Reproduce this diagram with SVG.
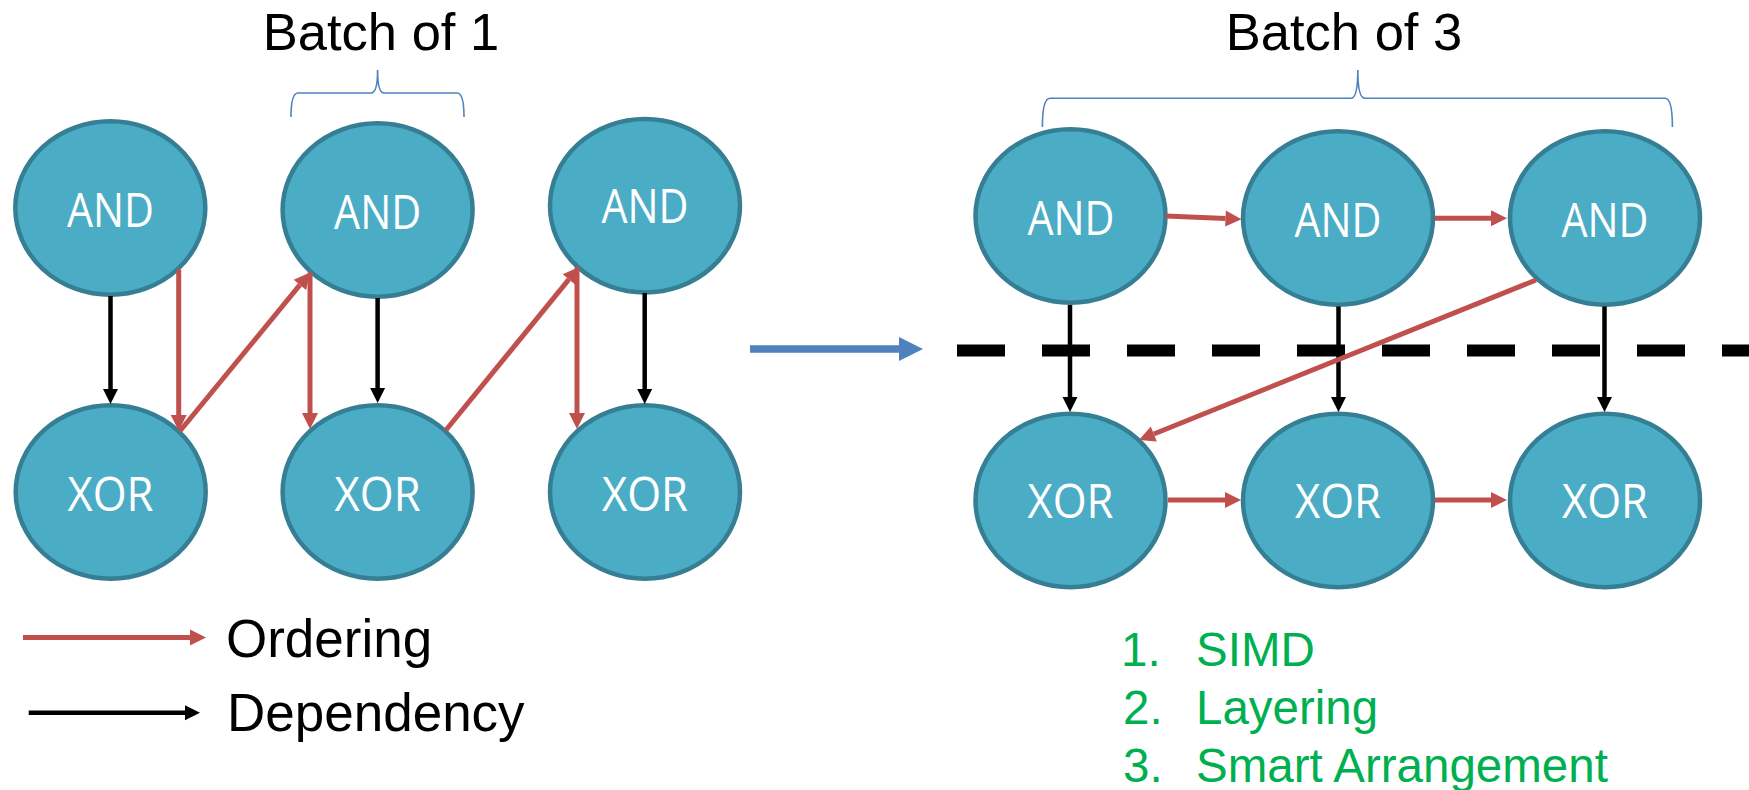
<svg xmlns="http://www.w3.org/2000/svg" width="1749" height="790" viewBox="0 0 1749 790">
  <style>
    .node ellipse { fill: #4BACC6; stroke: #357E93; stroke-width: 4.5; }
    .node text { fill: #FFFFFF; font-family: "Open Sans", "Liberation Sans", sans-serif; font-size: 48px; text-anchor: middle; }
    .title { font-family: "Liberation Sans", Arial, sans-serif; font-size: 52.5px; fill: #000000; text-anchor: middle; }
    .legend { font-family: "Liberation Sans", Arial, sans-serif; font-size: 53px; fill: #000000; }
    .list { font-family: "Liberation Sans", Arial, sans-serif; font-size: 47.5px; fill: #00B050; }
    .red { stroke: #C0504D; stroke-width: 5; fill: none; marker-end: url(#redHead); }
    .black { stroke: #000000; stroke-width: 4.5; fill: none; marker-end: url(#blackHead); }
    .brace { stroke: #4F81BD; stroke-width: 1.6; fill: none; }
  </style>
  <defs>
    <marker id="redHead" markerUnits="userSpaceOnUse" markerWidth="16" markerHeight="16" refX="0" refY="8" orient="auto" overflow="visible">
      <path d="M0,0 L16,8 L0,16 z" fill="#C0504D"/>
    </marker>
    <marker id="blackHead" markerUnits="userSpaceOnUse" markerWidth="15" markerHeight="15" refX="0" refY="7.5" orient="auto" overflow="visible">
      <path d="M0,0 L15,7.5 L0,15 z" fill="#000000"/>
    </marker>
    <marker id="blueHead" markerUnits="userSpaceOnUse" markerWidth="24" markerHeight="24" refX="0" refY="12" orient="auto" overflow="visible">
      <path d="M0,0 L24,12 L0,24 z" fill="#4F81BD"/>
    </marker>
  </defs>

  <!-- titles and braces -->
  <text class="title" x="381" y="50">Batch of 1</text>
  <text class="title" x="1344" y="50">Batch of 3</text>
  <path class="brace" d="M291,117 Q291,93 298,93 L371,93 Q377.6,93 377.6,70 Q377.6,93 384,93 L457,93 Q464,93 464,117"/>
  <path class="brace" d="M1042.4,127 Q1042.4,98.3 1050,98.3 L1351,98.3 Q1357.8,98.3 1357.8,70 Q1357.8,98.3 1365,98.3 L1665,98.3 Q1672.4,98.3 1672.4,127"/>

  <!-- separator -->
  <g id="separator">
    <line x1="957" y1="350.5" x2="1760" y2="350.5" stroke="#000000" stroke-width="12" stroke-dasharray="48 37"/>
  </g>

  <!-- nodes: left -->
  <g id="L_AND1" class="node"><ellipse cx="110.3" cy="208" rx="95" ry="86.7"/><text x="110.5" y="226.7" textLength="87" lengthAdjust="spacingAndGlyphs">AND</text></g>
  <g id="L_AND2" class="node"><ellipse cx="377.6" cy="210" rx="95" ry="86.7"/><text x="377.6" y="228.7" textLength="87" lengthAdjust="spacingAndGlyphs">AND</text></g>
  <g id="L_AND3" class="node"><ellipse cx="645" cy="205.7" rx="95" ry="86.7"/><text x="645" y="223.3" textLength="87" lengthAdjust="spacingAndGlyphs">AND</text></g>
  <g id="L_XOR1" class="node"><ellipse cx="110.7" cy="492" rx="95" ry="86.7"/><text x="110.5" y="510.7" textLength="86" lengthAdjust="spacingAndGlyphs">XOR</text></g>
  <g id="L_XOR2" class="node"><ellipse cx="377.6" cy="492" rx="95" ry="86.7"/><text x="377.6" y="510.7" textLength="86" lengthAdjust="spacingAndGlyphs">XOR</text></g>
  <g id="L_XOR3" class="node"><ellipse cx="645" cy="492" rx="95" ry="86.7"/><text x="645" y="510.7" textLength="86" lengthAdjust="spacingAndGlyphs">XOR</text></g>

  <!-- nodes: right -->
  <g id="R_AND1" class="node"><ellipse cx="1070.5" cy="216" rx="95" ry="86.7"/><text x="1071" y="235" textLength="87" lengthAdjust="spacingAndGlyphs">AND</text></g>
  <g id="R_AND2" class="node"><ellipse cx="1338" cy="218" rx="95" ry="86.7"/><text x="1338" y="236.7" textLength="87" lengthAdjust="spacingAndGlyphs">AND</text></g>
  <g id="R_AND3" class="node"><ellipse cx="1605" cy="218" rx="95" ry="86.7"/><text x="1605" y="236.7" textLength="87" lengthAdjust="spacingAndGlyphs">AND</text></g>
  <g id="R_XOR1" class="node"><ellipse cx="1070.5" cy="500.5" rx="95" ry="86.7"/><text x="1070.5" y="518.3" textLength="86" lengthAdjust="spacingAndGlyphs">XOR</text></g>
  <g id="R_XOR2" class="node"><ellipse cx="1338" cy="500.5" rx="95" ry="86.7"/><text x="1338" y="518.3" textLength="86" lengthAdjust="spacingAndGlyphs">XOR</text></g>
  <g id="R_XOR3" class="node"><ellipse cx="1605" cy="500.5" rx="95" ry="86.7"/><text x="1605" y="518.3" textLength="86" lengthAdjust="spacingAndGlyphs">XOR</text></g>

  <!-- connectors -->
  <g id="connectors">
    <!-- left: dependencies -->
    <line class="black" x1="110.5" y1="296" x2="110.5" y2="389"/>
    <line class="black" x1="377.6" y1="298" x2="377.6" y2="388"/>
    <line class="black" x1="644.7" y1="293" x2="644.7" y2="389"/>
    <!-- left: ordering -->
    <line class="red" x1="178.7" y1="269.5" x2="178.7" y2="415"/>
    <line class="red" x1="180" y1="431" x2="299.9" y2="284.9"/>
    <line class="red" x1="310" y1="272.5" x2="310" y2="413"/>
    <line class="red" x1="446" y1="430" x2="568.9" y2="279.4"/>
    <line class="red" x1="577" y1="267" x2="577" y2="413"/>

    <!-- middle transition arrow -->
    <line x1="750" y1="349" x2="899" y2="349" stroke="#4F81BD" stroke-width="7.5" marker-end="url(#blueHead)"/>

    <!-- right: dependencies -->
    <line class="black" x1="1070" y1="305" x2="1070" y2="397"/>
    <line class="black" x1="1338.5" y1="306.5" x2="1338.5" y2="397"/>
    <line class="black" x1="1604.5" y1="306.5" x2="1604.5" y2="397"/>
    <!-- right: ordering -->
    <line class="red" x1="1166" y1="216" x2="1225.5" y2="218.5"/>
    <line class="red" x1="1435" y1="218.3" x2="1491" y2="218.3"/>
    <line class="red" x1="1536" y1="280" x2="1153.8" y2="434"/>
    <line class="red" x1="1168" y1="500" x2="1225" y2="500"/>
    <line class="red" x1="1435" y1="500" x2="1491" y2="500"/>

    <!-- legend arrows -->
    <line class="red" x1="23" y1="637.5" x2="190" y2="637.5"/>
    <line class="black" x1="28.7" y1="712.7" x2="185" y2="712.7"/>
  </g>

  <!-- legend text -->
  <text class="legend" x="226" y="656.7">Ordering</text>
  <text class="legend" x="227" y="730.7">Dependency</text>

  <!-- green list -->
  <g id="list">
    <text class="list" x="1121" y="665.7">1.</text><text class="list" x="1196" y="665.7">SIMD</text>
    <text class="list" x="1123" y="724">2.</text><text class="list" x="1196" y="724">Layering</text>
    <text class="list" x="1123" y="781.7">3.</text><text class="list" x="1196" y="781.7">Smart Arrangement</text>
  </g>
</svg>
